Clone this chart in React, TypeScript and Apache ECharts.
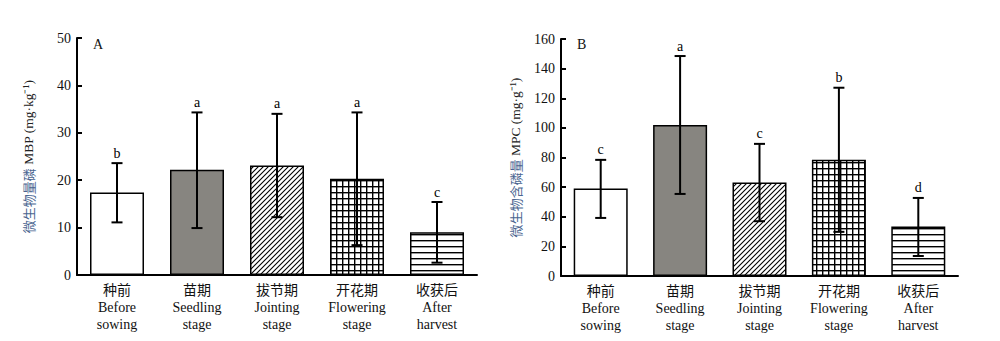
import React, { useEffect, useRef } from "react";
import * as echarts from "echarts";

const categories = [
  "种前\nBefore\nsowing",
  "苗期\nSeedling\nstage",
  "拔节期\nJointing\nstage",
  "开花期\nFlowering\nstage",
  "收获后\nAfter\nharvest",
];
const mbpMean = [17.4, 22.2, 23.1, 20.3, 9.0];
const mbpLow = [11.1, 9.9, 12.2, 6.3, 2.6];
const mbpHigh = [23.6, 34.3, 34.0, 34.3, 15.4];
const mbpLetters = ["b", "a", "a", "a", "c"];
const mpcMean = [59.1, 101.9, 63.1, 78.4, 33.4];
const mpcLow = [39.2, 55.4, 37.0, 29.8, 13.5];
const mpcHigh = [78.4, 148.5, 89.2, 127.1, 52.7];
const mpcLetters = ["c", "a", "c", "b", "d"];

const SERIF = "'Liberation Serif', 'Times New Roman', 'Noto Sans CJK SC', serif";

function makeTile(size: number, draw: (c: CanvasRenderingContext2D) => void) {
  const cv = document.createElement("canvas");
  cv.width = size;
  cv.height = size;
  const c = cv.getContext("2d")!;
  c.fillStyle = "#fff";
  c.fillRect(0, 0, size, size);
  draw(c);
  return cv;
}

export default function App() {
  const ref = useRef<HTMLDivElement>(null);
  useEffect(() => {
    if (!ref.current) return;
    const chart = echarts.init(ref.current, undefined, { renderer: "svg" });

    const diag = makeTile(5, (c) => {
      c.strokeStyle = "#000";
      c.lineWidth = 1.1;
      c.beginPath();
      c.moveTo(-1, 6); c.lineTo(6, -1);
      c.moveTo(-1, 1); c.lineTo(1, -1);
      c.moveTo(4, 6); c.lineTo(6, 4);
      c.stroke();
    });
    const grid = makeTile(6, (c) => {
      c.fillStyle = "#000";
      c.fillRect(0, 0, 6, 1.4);
      c.fillRect(0, 0, 1.4, 6);
    });
    const horiz = makeTile(6, (c) => {
      c.fillStyle = "#000";
      c.fillRect(0, 0, 6, 1.4);
    });
    const fills: any[] = [
      "#ffffff",
      "#878580",
      { image: diag, repeat: "repeat" },
      { image: grid, repeat: "repeat" },
      { image: horiz, repeat: "repeat" },
    ];

    const barData = (vals: number[]) =>
      vals.map((v, i) => ({
        value: v,
        itemStyle: { color: fills[i], borderColor: "#000", borderWidth: 1.5 },
      }));

    const errRender = (letters: string[]) => (params: any, api: any) => {
      const x = api.value(0);
      const lo = api.coord([x, api.value(1)]);
      const hi = api.coord([x, api.value(2)]);
      const half = 5.5;
      const st = { stroke: "#000", lineWidth: 2 };
      return {
        type: "group",
        children: [
          { type: "line", shape: { x1: lo[0], y1: lo[1], x2: hi[0], y2: hi[1] }, style: st },
          { type: "line", shape: { x1: hi[0] - half, y1: hi[1], x2: hi[0] + half, y2: hi[1] }, style: st },
          { type: "line", shape: { x1: lo[0] - half, y1: lo[1], x2: lo[0] + half, y2: lo[1] }, style: st },
          {
            type: "text",
            style: {
              text: letters[params.dataIndex],
              x: hi[0],
              y: hi[1] - 3,
              align: "center",
              verticalAlign: "bottom",
              font: `14px ${SERIF}`,
              fill: "#000",
            },
          },
        ],
      };
    };

    const xAxisCommon = {
      type: "category",
      data: categories,
      boundaryGap: true,
      axisLine: { lineStyle: { color: "#000", width: 2 } },
      axisTick: { inside: true, length: 5, lineStyle: { color: "#000", width: 2 } },
      axisLabel: {
        interval: 0,
        margin: 7,
        color: "#111",
        fontSize: 14,
        lineHeight: 17,
        fontFamily: SERIF,
      },
    };

    const yAxisCommon = (max: number, interval: number, name: string, gap: number) => ({
      type: "value",
      min: 0,
      max,
      interval,
      name,
      nameLocation: "middle",
      nameGap: gap,
      nameRotate: 90,
      nameTextStyle: {
        rich: {
          cn: { fontSize: 13, color: "#4a6590", fontFamily: "'Noto Sans CJK SC', sans-serif" },
          en: { fontSize: 13.5, color: "#222", fontFamily: SERIF },
        },
      },
      splitLine: { show: false },
      axisLine: { show: true, lineStyle: { color: "#000", width: 2 } },
      axisTick: { show: true, inside: true, length: 5, lineStyle: { color: "#000", width: 2 } },
      axisLabel: { color: "#111", fontSize: 14, fontFamily: SERIF, margin: 6 },
    });

    chart.setOption({
      animation: false,
      backgroundColor: "#fff",
      grid: [
        { left: 77, top: 38, width: 400, height: 237 },
        { left: 561, top: 39, width: 397, height: 237 },
      ],
      xAxis: [
        { ...xAxisCommon, gridIndex: 0 },
        { ...xAxisCommon, gridIndex: 1 },
      ],
      yAxis: [
        { ...yAxisCommon(50, 10, "{cn|微生物量磷} {en|MBP (mg·kg⁻¹)}", 42), gridIndex: 0 },
        { ...yAxisCommon(160, 20, "{cn|微生物含磷量} {en|MPC (mg·g⁻¹)}", 39), gridIndex: 1 },
      ],
      graphic: [
        { type: "text", left: 93, top: 37, style: { text: "A", font: `14px ${SERIF}`, fill: "#111" } },
        { type: "text", left: 577, top: 37, style: { text: "B", font: `14px ${SERIF}`, fill: "#111" } },
      ],
      series: [
        { type: "bar", xAxisIndex: 0, yAxisIndex: 0, barWidth: 54, data: barData(mbpMean) },
        { type: "bar", xAxisIndex: 1, yAxisIndex: 1, barWidth: 54, data: barData(mpcMean) },
        {
          type: "custom",
          xAxisIndex: 0,
          yAxisIndex: 0,
          renderItem: errRender(mbpLetters),
          data: mbpLow.map((l, i) => [i, l, mbpHigh[i]]),
          z: 5,
        },
        {
          type: "custom",
          xAxisIndex: 1,
          yAxisIndex: 1,
          renderItem: errRender(mpcLetters),
          data: mpcLow.map((l, i) => [i, l, mpcHigh[i]]),
          z: 5,
        },
      ],
    });
    return () => chart.dispose();
  }, []);
  return (
    <div
      ref={ref}
      style={{ position: "fixed", left: 0, top: 0, width: 1000, height: 341, background: "#fff" }}
    />
  );
}
